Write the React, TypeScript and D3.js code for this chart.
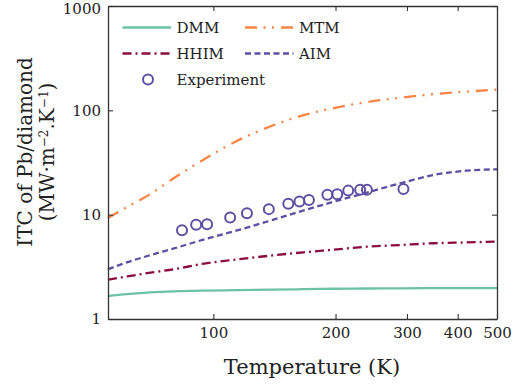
import { useEffect, useRef } from 'react';
import * as d3 from 'd3';

// model curves, sampled at these temperatures (K)
const temperatures = [55, 60, 70, 80, 95, 115, 140, 167, 198, 239, 289, 349, 420, 500];
const dmmValues = [1.66, 1.72, 1.8, 1.84, 1.87, 1.89, 1.91, 1.93, 1.95, 1.96, 1.97, 1.975, 1.98, 1.98];
const mtmValues = [9.3, 11.3, 15.8, 22.5, 34, 51.5, 71.5, 90, 105, 120, 132, 143, 151, 158];
const hhimValues = [2.38, 2.52, 2.78, 3.0, 3.4, 3.73, 4.07, 4.36, 4.62, 4.93, 5.12, 5.32, 5.42, 5.52];
const aimValues = [3.0, 3.4, 4.1, 4.75, 5.8, 7.1, 8.9, 11.0, 13.3, 16.3, 20.0, 24.0, 26.4, 27.2];

// measured points
const expTemperatures = [83.7, 90.7, 96.5, 110, 121, 137, 153, 163, 172, 191, 202, 215, 230, 239, 294];
const expValues = [7.1, 8.0, 8.1, 9.4, 10.3, 11.3, 12.7, 13.4, 13.8, 15.5, 15.7, 17.0, 17.3, 17.3, 17.6];

const xTickValues = [100, 200, 300, 400, 500];
const yTickValues = [1, 10, 100, 1000];

const FONT = '"DejaVu Serif", serif';

interface Series {
  name: string;
  values: number[];
  color: string;
  dash: string | null;
}

const series: Series[] = [
  { name: 'DMM', values: dmmValues, color: '#6cc3a3', dash: null },
  { name: 'MTM', values: mtmValues, color: '#f98545', dash: '12,6.5,2,6.5,2,7' },
  { name: 'HHIM', values: hhimValues, color: '#8b0c3f', dash: '9,4,2,4' },
  { name: 'AIM', values: aimValues, color: '#5e4fa2', dash: '6,3.5' },
];

function ItcChart() {
  const svgRef = useRef<SVGSVGElement>(null);

  useEffect(() => {
    if (!svgRef.current) return;
    const width = 527;
    const height = 385;
    d3.select(svgRef.current).selectAll('*').remove();

    const margin = { top: 6, right: 30, bottom: 66, left: 108 };
    const innerWidth = width - margin.left - margin.right;
    const innerHeight = height - margin.top - margin.bottom;

    const svg = d3.select(svgRef.current).attr('width', width).attr('height', height);
    const g = svg.append('g').attr('transform', `translate(${margin.left},${margin.top})`);

    const x = d3.scaleLog().domain([55, 500]).range([0, innerWidth]);
    const y = d3.scaleLog().domain([1, 1000]).range([innerHeight, 0]);

    const line = d3
      .line<number>()
      .x((_, i) => x(temperatures[i]))
      .y((d) => y(d))
      .curve(d3.curveMonotoneX);

    // model curves
    series.forEach((s) => {
      g.append('path')
        .datum(s.values)
        .attr('fill', 'none')
        .attr('stroke', s.color)
        .attr('stroke-width', 2.3)
        .attr('stroke-dasharray', s.dash)
        .attr('d', line);
    });

    // experiment markers
    g.selectAll('circle.exp')
      .data(expValues)
      .enter()
      .append('circle')
      .attr('class', 'exp')
      .attr('cx', (_, i) => x(expTemperatures[i]))
      .attr('cy', (d) => y(d))
      .attr('r', 5)
      .attr('fill', 'none')
      .attr('stroke', '#5e4fa2')
      .attr('stroke-width', 2);

    // axes, ticks pointing inward on all four sides
    const bottom = g
      .append('g')
      .attr('transform', `translate(0,${innerHeight})`)
      .call(
        d3
          .axisBottom(x)
          .tickValues(xTickValues)
          .tickFormat((d) => String(d))
          .tickSizeInner(-5)
          .tickSizeOuter(0)
          .tickPadding(8)
      );
    const left = g.append('g').call(
      d3
        .axisLeft(y)
        .tickValues(yTickValues)
        .tickFormat((d) => String(d))
        .tickSizeInner(-5)
        .tickSizeOuter(0)
        .tickPadding(7)
    );
    g.append('g').call(
      d3.axisTop(x).tickValues(xTickValues).tickFormat(() => '').tickSizeInner(-5).tickSizeOuter(0)
    );
    g.append('g')
      .attr('transform', `translate(${innerWidth},0)`)
      .call(d3.axisRight(y).tickValues(yTickValues).tickFormat(() => '').tickSizeInner(-5).tickSizeOuter(0));

    [bottom, left].forEach((a) =>
      a.selectAll('text').attr('font-family', FONT).attr('font-size', '15px').attr('fill', '#222')
    );
    // top label sits a little below its tick so it stays on the page
    left
      .selectAll<SVGTextElement, number>('text')
      .filter((d) => d === 1000)
      .attr('y', 2.5);
    g.selectAll('.domain').attr('stroke', '#333').attr('stroke-width', 1.3);
    g.selectAll('.tick line').attr('stroke', '#333').attr('stroke-width', 1.1);

    // axis titles
    svg
      .append('text')
      .attr('x', 312)
      .attr('y', 374)
      .attr('text-anchor', 'middle')
      .attr('font-family', FONT)
      .attr('font-size', '21px')
      .attr('fill', '#222')
      .text('Temperature (K)');

    const yTitle = svg
      .append('g')
      .attr('transform', `translate(0,152) rotate(-90)`)
      .attr('font-family', FONT)
      .attr('font-size', '20px')
      .attr('fill', '#222')
      .attr('text-anchor', 'middle');
    yTitle.append('text').attr('x', 0).attr('y', 32).text('ITC of Pb/diamond');
    const unit = yTitle.append('text').attr('x', 0).attr('y', 54);
    unit.append('tspan').text('(MW·m');
    unit.append('tspan').attr('dy', -6).attr('font-size', '12px').text('−2');
    unit.append('tspan').attr('dy', 6).text('.K');
    unit.append('tspan').attr('dy', -6).attr('font-size', '12px').text('−1');
    unit.append('tspan').attr('dy', 6).text(')');

    // legend
    const legend = svg.append('g').attr('font-family', FONT).attr('font-size', '15px').attr('fill', '#222');
    const legendPos = [
      { lx: 122.5, ly: 27.5 },
      { lx: 245, ly: 27.5 },
      { lx: 122.5, ly: 53.5 },
      { lx: 245, ly: 53.5 },
    ];
    series.forEach((s, i) => {
      const p = legendPos[i];
      legend
        .append('line')
        .attr('x1', p.lx)
        .attr('x2', p.lx + 48.5)
        .attr('y1', p.ly)
        .attr('y2', p.ly)
        .attr('stroke', s.color)
        .attr('stroke-width', 2.3)
        .attr('stroke-dasharray', s.dash);
      legend
        .append('text')
        .attr('x', p.lx + 54)
        .attr('y', p.ly + 5.5)
        .text(s.name);
    });
    legend
      .append('circle')
      .attr('cx', 148)
      .attr('cy', 79.5)
      .attr('r', 5)
      .attr('fill', 'none')
      .attr('stroke', '#5e4fa2')
      .attr('stroke-width', 2);
    legend.append('text').attr('x', 176.5).attr('y', 85).text('Experiment');
  }, []);

  return <svg ref={svgRef} />;
}

export default function App() {
  return (
    <div style={{ position: 'absolute', left: 0, top: 0, background: '#fff' }}>
      <ItcChart />
    </div>
  );
}
